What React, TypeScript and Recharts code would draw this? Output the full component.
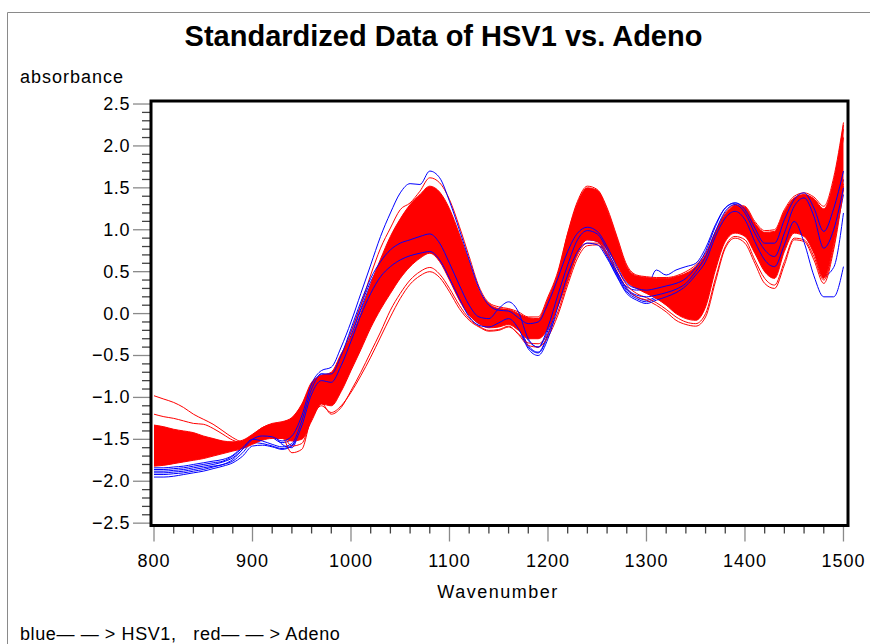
import React from 'react';
import { ComposedChart, Line, Area, XAxis, YAxis } from 'recharts';

// ---------- categories ----------
const wavenumbers = [
  800, 810, 820, 830, 840, 850, 860, 870, 880, 890,
  900, 910, 920, 930, 940, 950, 960, 970, 980, 990,
  1000, 1010, 1020, 1030, 1040, 1050, 1060, 1070, 1080, 1090,
  1100, 1110, 1120, 1130, 1140, 1150, 1160, 1170, 1180, 1190,
  1200, 1210, 1220, 1230, 1240, 1250, 1260, 1270, 1280, 1290,
  1300, 1310, 1320, 1330, 1340, 1350, 1360, 1370, 1380, 1390,
  1400, 1410, 1420, 1430, 1440, 1450, 1460, 1470, 1480, 1490,
  1500,
];

// ---------- tick labels ----------
const xTicks = [
  800, 820, 840, 860, 880, 900, 920, 940, 960, 980, 1000, 1020, 1040, 1060, 1080, 1100,
  1120, 1140, 1160, 1180, 1200, 1220, 1240, 1260, 1280, 1300, 1320, 1340, 1360, 1380,
  1400, 1420, 1440, 1460, 1480, 1500,
];
const yTicks = [
  -2.5, -2.4, -2.3, -2.2, -2.1, -2.0, -1.9, -1.8, -1.7, -1.6,
  -1.5, -1.4, -1.3, -1.2, -1.1, -1.0, -0.9, -0.8, -0.7, -0.6,
  -0.5, -0.4, -0.3, -0.2, -0.1, 0.0, 0.1, 0.2, 0.3, 0.4,
  0.5, 0.6, 0.7, 0.8, 0.9, 1.0, 1.1, 1.2, 1.3, 1.4,
  1.5, 1.6, 1.7, 1.8, 1.9, 2.0, 2.1, 2.2, 2.3, 2.4, 2.5,
];

// ---------- Adeno (red): dense band envelope ----------
const adenoHigh = [
  -1.33, -1.35, -1.38, -1.40, -1.42, -1.46, -1.49, -1.52, -1.53, -1.51,
  -1.44, -1.36, -1.31, -1.29, -1.24, -1.08, -0.82, -0.74, -0.70, -0.48,
  -0.28, 0.0, 0.35, 0.65, 0.92, 1.13, 1.30, 1.42, 1.52, 1.45,
  1.25, 0.95, 0.62, 0.28, 0.12, 0.06, 0.05, 0.0, -0.05, -0.06,
  0.18, 0.48, 0.95, 1.32, 1.50, 1.47, 1.24, 0.90, 0.56, 0.45,
  0.43, 0.42, 0.42, 0.44, 0.48, 0.56, 0.70, 0.96, 1.18, 1.29,
  1.27, 1.08, 0.97, 0.98, 1.22, 1.38, 1.42, 1.37, 1.25, 1.58,
  2.25,
];
const adenoLow = [
  -1.82, -1.81, -1.79, -1.77, -1.75, -1.73, -1.70, -1.67, -1.64, -1.61,
  -1.56, -1.51, -1.49, -1.49, -1.52, -1.50, -1.28, -1.08, -1.10, -0.93,
  -0.68, -0.43, -0.17, 0.05, 0.24, 0.42, 0.56, 0.66, 0.72, 0.62,
  0.40, 0.16, -0.02, -0.12, -0.17, -0.16, -0.13, -0.20, -0.30, -0.30,
  -0.18, 0.08, 0.40, 0.72, 0.88, 0.86, 0.76, 0.58, 0.38, 0.30,
  0.24, 0.18, 0.10, 0.00, -0.06, -0.08, 0.08, 0.52, 0.86, 0.96,
  0.92, 0.72, 0.50, 0.42, 0.74, 0.96, 0.92, 0.72, 0.42, 0.84,
  1.55,
];
// ---------- Adeno (red): individual curves ----------
const adenoA = [
  -0.98, -1.02, -1.06, -1.12, -1.20, -1.26, -1.32, -1.40, -1.48, -1.53,
  -1.45, -1.36, -1.32, -1.31, -1.27, -1.14, -0.88, -0.78, -0.76, -0.56,
  -0.32, 0.0, 0.32, 0.62, 0.88, 1.08, 1.22, 1.32, 1.40, 1.36,
  1.18, 0.88, 0.56, 0.24, 0.08, 0.03, 0.02, -0.03, -0.08, -0.08,
  0.14, 0.44, 0.90, 1.28, 1.46, 1.43, 1.20, 0.86, 0.52, 0.42,
  0.40, 0.39, 0.40, 0.42, 0.46, 0.54, 0.68, 0.93, 1.15, 1.26,
  1.24, 1.05, 0.95, 0.96, 1.20, 1.36, 1.40, 1.34, 1.20, 1.55,
  2.20,
];
const adenoB = [
  -1.20, -1.23, -1.25, -1.28, -1.31, -1.32, -1.37, -1.44, -1.51, -1.54,
  -1.48, -1.40, -1.36, -1.35, -1.32, -1.20, -0.95, -0.84, -0.84, -0.66,
  -0.42, -0.12, 0.20, 0.50, 0.76, 0.96, 1.10, 1.20, 1.28, 1.22,
  1.02, 0.72, 0.42, 0.14, 0.02, -0.01, -0.02, -0.07, -0.13, -0.12,
  0.08, 0.36, 0.80, 1.18, 1.38, 1.36, 1.12, 0.80, 0.48, 0.38,
  0.36, 0.34, 0.34, 0.35, 0.38, 0.46, 0.60, 0.88, 1.10, 1.22,
  1.20, 1.00, 0.88, 0.90, 1.14, 1.32, 1.36, 1.28, 1.10, 1.45,
  2.10,
];
const adenoC = [
  -1.62, -1.62, -1.61, -1.60, -1.60, -1.59, -1.59, -1.59, -1.59, -1.58,
  -1.52, -1.44, -1.40, -1.46, -1.66, -1.62, -1.22, -1.07, -1.20, -1.12,
  -0.92, -0.70, -0.46, -0.22, 0.04, 0.24, 0.40, 0.50, 0.55, 0.47,
  0.30, 0.10, -0.06, -0.15, -0.20, -0.19, -0.15, -0.25, -0.38, -0.40,
  -0.28, -0.02, 0.34, 0.66, 0.81, 0.82, 0.70, 0.50, 0.30, 0.20,
  0.16, 0.10, 0.02, -0.08, -0.13, -0.15, -0.04, 0.38, 0.78, 0.90,
  0.84, 0.60, 0.36, 0.30, 0.58, 0.88, 0.86, 0.64, 0.36, 0.76,
  1.48,
];
const adenoD = [
  -1.70, -1.70, -1.69, -1.68, -1.67, -1.66, -1.65, -1.63, -1.61, -1.59,
  -1.54, -1.47, -1.44, -1.45, -1.58, -1.55, -1.25, -1.10, -1.18, -1.10,
  -0.94, -0.74, -0.52, -0.28, -0.04, 0.18, 0.35, 0.45, 0.50, 0.43,
  0.26, 0.06, -0.08, -0.16, -0.21, -0.20, -0.16, -0.24, -0.35, -0.36,
  -0.24, 0.02, 0.38, 0.70, 0.84, 0.84, 0.73, 0.54, 0.34, 0.24,
  0.19, 0.13, 0.05, -0.04, -0.10, -0.12, 0.0, 0.42, 0.80, 0.92,
  0.88, 0.64, 0.42, 0.34, 0.62, 0.90, 0.88, 0.68, 0.40, 0.80,
  1.52,
];
const adenoE = [
  -1.40, -1.42, -1.44, -1.45, -1.47, -1.48, -1.50, -1.53, -1.55, -1.55,
  -1.46, -1.38, -1.33, -1.31, -1.26, -1.10, -0.84, -0.74, -0.72, -0.50,
  -0.22, 0.10, 0.46, 0.78, 1.02, 1.24, 1.32, 1.46, 1.62, 1.56,
  1.36, 1.04, 0.68, 0.32, 0.13, 0.08, 0.06, 0.02, -0.04, -0.04,
  0.20, 0.50, 0.96, 1.34, 1.52, 1.48, 1.26, 0.92, 0.58, 0.46,
  0.44, 0.43, 0.43, 0.45, 0.50, 0.58, 0.72, 0.98, 1.20, 1.30,
  1.28, 1.10, 0.99, 1.00, 1.24, 1.40, 1.44, 1.39, 1.28, 1.62,
  2.28,
];

// ---------- HSV1 (blue): individual curves ----------
const hsvA = [
  -1.90, -1.90, -1.89, -1.88, -1.86, -1.84, -1.82, -1.80, -1.74, -1.62,
  -1.50, -1.46, -1.47, -1.52, -1.46, -1.22, -0.84, -0.68, -0.64, -0.40,
  -0.10, 0.24, 0.58, 0.92, 1.20, 1.44, 1.55, 1.54, 1.70, 1.62,
  1.34, 1.00, 0.64, 0.30, 0.10, 0.04, 0.03, -0.05, -0.12, -0.10,
  0.12, 0.42, 0.74, 0.96, 1.03, 0.98, 0.80, 0.56, 0.36, 0.30,
  0.28, 0.30, 0.33, 0.36, 0.42, 0.55, 0.74, 1.04, 1.26, 1.32,
  1.24, 1.02, 0.84, 0.84, 1.12, 1.36, 1.44, 1.26, 0.98, 1.25,
  1.70,
];
const hsv1 = [
  -1.86, -1.86, -1.85, -1.84, -1.82, -1.80, -1.78, -1.76, -1.70, -1.60,
  -1.50, -1.52, -1.56, -1.59, -1.55, -1.28, -0.90, -0.72, -0.72, -0.50,
  -0.18, 0.14, 0.42, 0.62, 0.76, 0.84, 0.88, 0.92, 0.95, 0.84,
  0.60, 0.34, 0.10, -0.04, -0.06, 0.06, 0.14, 0.02, -0.30, -0.40,
  -0.16, 0.22, 0.58, 0.88, 0.99, 0.95, 0.76, 0.50, 0.30, 0.22,
  0.20, 0.22, 0.25, 0.29, 0.36, 0.50, 0.68, 0.98, 1.22, 1.30,
  1.20, 0.96, 0.76, 0.68, 0.96, 1.28, 1.38, 1.16, 0.78, 1.00,
  1.50,
];
const hsv2 = [
  -1.92, -1.92, -1.91, -1.90, -1.88, -1.86, -1.83, -1.80, -1.76, -1.66,
  -1.54, -1.55, -1.58, -1.61, -1.57, -1.32, -0.94, -0.77, -0.78, -0.58,
  -0.28, 0.04, 0.30, 0.50, 0.64, 0.72, 0.77, 0.80, 0.82, 0.72,
  0.48, 0.24, 0.02, -0.10, -0.12, -0.08, -0.02, -0.14, -0.38, -0.46,
  -0.24, 0.14, 0.52, 0.80, 0.90, 0.87, 0.70, 0.47, 0.28, 0.20,
  0.16, 0.20, 0.24, 0.28, 0.36, 0.50, 0.66, 0.96, 1.18, 1.26,
  1.16, 0.92, 0.72, 0.64, 0.92, 1.24, 1.20, 0.85, 0.45, 0.55,
  1.20,
];
const hsv3 = [
  -1.95, -1.95, -1.94, -1.92, -1.90, -1.88, -1.85, -1.82, -1.78, -1.70,
  -1.58, -1.57, -1.59, -1.62, -1.58, -1.34, -0.96, -0.80, -0.82, -0.62,
  -0.33, -0.02, 0.24, 0.44, 0.56, 0.64, 0.69, 0.72, 0.74, 0.64,
  0.42, 0.18, -0.04, -0.14, -0.16, -0.11, -0.06, -0.18, -0.42, -0.50,
  -0.30, 0.08, 0.46, 0.74, 0.84, 0.82, 0.66, 0.44, 0.24, 0.16,
  0.12, 0.16, 0.20, 0.25, 0.33, 0.46, 0.62, 0.92, 1.14, 1.22,
  1.12, 0.86, 0.64, 0.56, 0.82, 1.10, 0.85, 0.45, 0.20, 0.20,
  0.56,
];
const hsv4 = [
  -1.88, -1.88, -1.87, -1.86, -1.84, -1.82, -1.80, -1.77, -1.72, -1.62,
  -1.48, -1.42, -1.44, -1.56, -1.60, -1.30, -0.90, -0.72, -0.74, -0.52,
  -0.22, 0.10, 0.38, 0.58, 0.70, 0.78, 0.83, 0.86, 0.88, 0.78,
  0.54, 0.28, 0.06, -0.08, -0.10, -0.04, 0.02, -0.10, -0.32, -0.40,
  -0.20, 0.18, 0.56, 0.84, 0.94, 0.90, 0.72, 0.48, 0.32, 0.28,
  0.30, 0.52, 0.46, 0.52, 0.56, 0.60, 0.78, 1.06, 1.26, 1.32,
  1.24, 1.00, 0.82, 0.74, 1.02, 1.32, 1.40, 1.22, 0.90, 1.10,
  1.60,
];
const hsv5 = [
  -1.84, -1.84, -1.83, -1.82, -1.80, -1.78, -1.76, -1.74, -1.69, -1.58,
  -1.46, -1.44, -1.48, -1.54, -1.50, -1.26, -0.88, -0.74, -0.76, -0.55,
  -0.26, 0.06, 0.34, 0.53, 0.64, 0.70, 0.74, 0.76, 0.78, 0.68,
  0.46, 0.22, 0.00, -0.12, -0.14, -0.09, -0.03, -0.15, -0.40, -0.47,
  -0.26, 0.12, 0.50, 0.78, 0.88, 0.86, 0.68, 0.45, 0.26, 0.18,
  0.14, 0.18, 0.22, 0.27, 0.34, 0.48, 0.64, 0.94, 1.16, 1.24,
  1.14, 0.90, 0.70, 0.62, 0.90, 1.22, 1.30, 1.12, 0.70, 0.90,
  1.42,
];

const redKeys = ['rA', 'rB', 'rC', 'rD', 'rE'];
const redSeries = [adenoA, adenoB, adenoC, adenoD, adenoE];
// blue curves drawn beneath the red band, then blue curves drawn over it
const blueUnderKeys = ['b2', 'b4', 'b5'];
const blueUnderSeries = [hsv2, hsv4, hsv5];
const blueOverKeys = ['bA', 'b1', 'b3'];
const blueOverSeries = [hsvA, hsv1, hsv3];

const rows = wavenumbers.map((w, i) => {
  const row: any = { w, band: [adenoLow[i], adenoHigh[i]] };
  redKeys.forEach((k, j) => (row[k] = redSeries[j][i]));
  blueUnderKeys.forEach((k, j) => (row[k] = blueUnderSeries[j][i]));
  blueOverKeys.forEach((k, j) => (row[k] = blueOverSeries[j][i]));
  return row;
});

// ---------- layout ----------
const W = 870;
const H = 644;
const FONT = '"Liberation Sans", Arial, Helvetica, sans-serif';
const X_DOMAIN: [number, number] = [796.95, 1504.6];
const Y_DOMAIN: [number, number] = [-2.528, 2.536];
const PLOT = { left: 151, top: 101, right: 848, bottom: 525.5 };

const fmtY = (v: number) => {
  const s = Math.abs(v).toFixed(1);
  return v < -1e-9 ? '\u2212' + s : s;
};

const YTick = (props: any) => {
  const { x, y, payload } = props;
  const v = payload.value as number;
  const major = Math.abs(v * 2 - Math.round(v * 2)) < 1e-6;
  return (
    <g>
      <line
        x1={x - (major ? 18 : 9)}
        x2={x}
        y1={y}
        y2={y}
        stroke={major ? '#8a8a8a' : '#444'}
        strokeWidth={1.3}
      />
      {major && (
        <text
          x={x - 21}
          y={y + 6}
          textAnchor="end"
          fontFamily={FONT}
          fontSize={18}
          letterSpacing={0.6}
          fill="#000"
        >
          {fmtY(v)}
        </text>
      )}
    </g>
  );
};

const XTick = (props: any) => {
  const { x, y, payload } = props;
  const v = payload.value as number;
  const major = v % 100 === 0;
  return (
    <g>
      <line
        x1={x}
        x2={x}
        y1={y}
        y2={y + (major ? 16 : 8)}
        stroke={major ? '#8a8a8a' : '#444'}
        strokeWidth={1.3}
      />
      {major && (
        <text
          x={x}
          y={y + 41}
          textAnchor="middle"
          fontFamily={FONT}
          fontSize={18}
          letterSpacing={1}
          fill="#000"
        >
          {String(v)}
        </text>
      )}
    </g>
  );
};

const lineProps = {
  type: 'monotone' as const,
  strokeWidth: 1,
  dot: false,
  activeDot: false,
  isAnimationActive: false,
};

export default function App() {
  return (
    <div
      style={{
        position: 'absolute',
        left: 0,
        top: 0,
        width: W,
        height: H,
        background: '#fff',
        overflow: 'hidden',
      }}
    >
      <ComposedChart
        width={W}
        height={H}
        data={rows}
        margin={{ top: 101, right: 22, bottom: 78.5, left: 91 }}
      >
        <XAxis
          type="number"
          dataKey="w"
          domain={X_DOMAIN}
          allowDataOverflow
          ticks={xTicks}
          interval={0}
          tickSize={0}
          tickMargin={0}
          tickLine={false}
          axisLine={false}
          height={40}
          tick={<XTick />}
        />
        <YAxis
          type="number"
          domain={Y_DOMAIN}
          allowDataOverflow
          ticks={yTicks}
          interval={0}
          tickSize={0}
          tickMargin={0}
          tickLine={false}
          axisLine={false}
          width={60}
          tick={<YTick />}
        />
        {/* blue curves hidden behind the red band: unfilled areas keep declaration order among areas */}
        {blueUnderKeys.map((k) => (
          <Area
            key={k}
            dataKey={k}
            type="monotone"
            stroke="#0000ff"
            strokeWidth={1}
            fill="none"
            fillOpacity={0}
            dot={false}
            activeDot={false}
            isAnimationActive={false}
          />
        ))}
        <Area
          dataKey="band"
          type="monotone"
          stroke="#ff0000"
          strokeWidth={1}
          fill="#ff0000"
          fillOpacity={1}
          dot={false}
          activeDot={false}
          isAnimationActive={false}
        />
        {redKeys.map((k) => (
          <Line key={k} dataKey={k} stroke="#ff0000" {...lineProps} />
        ))}
        {blueOverKeys.map((k) => (
          <Line key={k} dataKey={k} stroke="#0000ff" {...lineProps} />
        ))}
      </ComposedChart>
      <svg
        width={W}
        height={H}
        style={{ position: 'absolute', left: 0, top: 0, pointerEvents: 'none' }}
      >
        <line x1={7.5} y1={12.5} x2={W} y2={12.5} stroke="#8a8a8a" strokeWidth={1} />
        <line x1={7.5} y1={12.5} x2={7.5} y2={H} stroke="#8a8a8a" strokeWidth={1} />
        <rect
          x={PLOT.left}
          y={PLOT.top}
          width={PLOT.right - PLOT.left}
          height={PLOT.bottom - PLOT.top}
          fill="none"
          stroke="#000"
          strokeWidth={3}
        />
        <text
          x={443.5}
          y={46}
          textAnchor="middle"
          fontFamily={FONT}
          fontWeight="bold"
          fontSize={29}
          fill="#000"
        >
          Standardized Data of HSV1 vs. Adeno
        </text>
        <text x={20} y={83} fontFamily={FONT} fontSize={18} letterSpacing={1} fill="#000">
          absorbance
        </text>
        <text
          x={498}
          y={598}
          textAnchor="middle"
          fontFamily={FONT}
          fontSize={18}
          letterSpacing={1.5}
          fill="#000"
        >
          Wavenumber
        </text>
        <text
          x={20}
          y={640}
          fontFamily={FONT}
          fontSize={18}
          letterSpacing={0.6}
          fill="#000"
          style={{ whiteSpace: 'pre' }}
        >
          {'blue\u2014 \u2014 > HSV1,   red\u2014 \u2014 > Adeno'}
        </text>
      </svg>
    </div>
  );
}
